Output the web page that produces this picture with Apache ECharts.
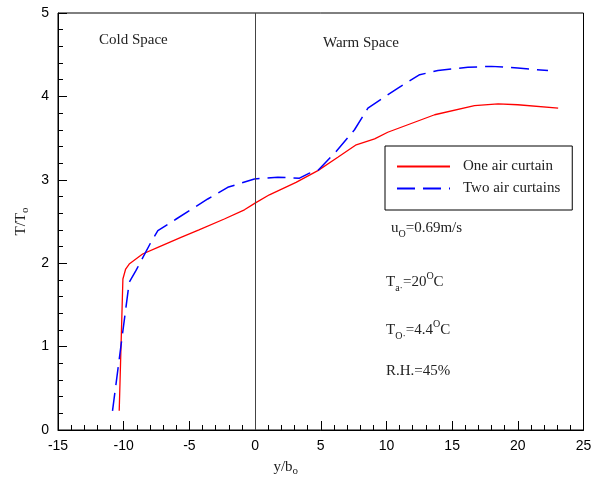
<!DOCTYPE html>
<html>
<head>
<meta charset="utf-8">
<script src="https://cdn.jsdelivr.net/npm/echarts@6/dist/echarts.min.js"></script>
<style>html,body{margin:0;padding:0;background:#fff}#c{width:600px;height:482px}</style>
</head>
<body>
<div id="c"></div>
<script>
// Data
var seriesNames = ['One air curtain', 'Two air curtains'];
var oneX = [-10.34, -10.06, -9.85, -9.58, -8.56, -7.4, -5.64, -4.27, -2.34, -0.81, 0.0, 1.09, 3.12, 4.78, 6.3, 7.7, 9.1, 10.1, 13.67, 16.7, 18.5, 20.0, 23.07];
var oneY = [0.23, 1.81, 1.93, 1.99, 2.11, 2.19, 2.31, 2.40, 2.53, 2.64, 2.72, 2.82, 2.97, 3.11, 3.27, 3.42, 3.49, 3.57, 3.78, 3.89, 3.91, 3.90, 3.86];
var twoX = [-10.85, -9.58, -9.07, -7.93, -7.4, -6.0, -3.6, -2.08, -0.05, 1.73, 3.38, 4.14, 4.78, 6.17, 7.57, 8.59, 10.88, 12.53, 13.92, 16.2, 17.99, 20.0, 22.3];
var twoY = [0.23, 1.77, 1.91, 2.25, 2.39, 2.53, 2.77, 2.91, 3.01, 3.03, 3.02, 3.08, 3.11, 3.34, 3.60, 3.86, 4.10, 4.26, 4.31, 4.35, 4.36, 4.34, 4.31];
var xTicks = {min: -15, max: 25, step: 5};
var yTicks = {min: 0, max: 5, step: 1};
var zeroLineX = 0;

function zip(a, b) { return a.map(function (v, i) { return [v, b[i]]; }); }

var chart = echarts.init(document.getElementById('c'), null, {renderer: 'canvas'});
var serif = 'Liberation Serif';
var sans = 'Liberation Sans';
var subRich = {
  n: {fontFamily: serif, fontSize: 15, color: '#222', lineHeight: 22, verticalAlign: 'middle'},
  sub: {fontFamily: serif, fontSize: 10, color: '#222', lineHeight: 22, verticalAlign: 'bottom'},
  sup: {fontFamily: serif, fontSize: 10, color: '#222', lineHeight: 22, verticalAlign: 'top'}
};
function note(x, y, text) {
  return {type: 'text', left: x, top: y, z: 10, style: {text: text, rich: subRich, fill: '#222', font: '15px ' + serif}};
}

chart.setOption({
  animation: false,
  grid: {left: 58, right: 16.5, top: 13, bottom: 50, show: true, borderColor: '#000', borderWidth: 1, backgroundColor: 'transparent'},
  xAxis: {
    type: 'value', min: xTicks.min, max: xTicks.max, interval: xTicks.step,
    axisLine: {onZero: false, lineStyle: {color: '#000', width: 1}},
    axisTick: {inside: true, length: 9, lineStyle: {color: '#000'}},
    minorTick: {show: true, splitNumber: 5, length: 5, lineStyle: {color: '#000'}},
    splitLine: {show: false},
    axisLabel: {color: '#000', fontFamily: sans, fontSize: 14, margin: 9},
    name: 'y/b{s|o}', nameLocation: 'middle', nameGap: 28,
    nameTextStyle: {fontFamily: serif, fontSize: 15, color: '#222', padding: [0, 70, 0, 0],
      rich: {s: {fontFamily: serif, fontSize: 11, color: '#222', padding: [8, 0, 0, 0]}}}
  },
  yAxis: {
    type: 'value', min: yTicks.min, max: yTicks.max, interval: yTicks.step,
    axisLine: {onZero: false, lineStyle: {color: '#000', width: 1}},
    axisTick: {inside: true, length: 9, lineStyle: {color: '#000'}},
    minorTick: {show: true, splitNumber: 5, length: 5, lineStyle: {color: '#000'}},
    splitLine: {show: false},
    axisLabel: {color: '#000', fontFamily: sans, fontSize: 14, margin: 9},
    name: 'T/T{s|o}', nameLocation: 'middle', nameGap: 27, nameRotate: 90,
    nameTextStyle: {fontFamily: serif, fontSize: 15, color: '#222',
      rich: {s: {fontFamily: serif, fontSize: 11, color: '#222', padding: [8, 0, 0, 0]}}}
  },
  legend: {
    orient: 'vertical', left: 385, top: 146,
    padding: [13, 12, 14, 11], itemWidth: 53, itemHeight: 14, itemGap: 7,
    borderColor: '#000', borderWidth: 1, backgroundColor: '#fff',
    itemStyle: {opacity: 0},
    textStyle: {fontFamily: serif, fontSize: 15, color: '#222', padding: [0, 0, 0, 8]},
    data: seriesNames
  },
  series: [
    {
      name: seriesNames[0], type: 'line', data: zip(oneX, oneY), symbol: 'none', smooth: false,
      lineStyle: {color: '#ff0000', width: 1.3}, itemStyle: {color: '#ff0000'},
      markLine: {silent: true, symbol: 'none', label: {show: false},
        lineStyle: {color: '#444', width: 1, type: 'solid'}, data: [{xAxis: zeroLineX}]}
    },
    {
      name: seriesNames[1], type: 'line', data: zip(twoX, twoY), symbol: 'none', smooth: false,
      lineStyle: {color: '#0000ff', width: 1.5, type: [18, 8]}, itemStyle: {color: '#0000ff'}
    }
  ],
  graphic: [
    note(99, 33, '{n|Cold Space}'),
    note(323, 36, '{n|Warm Space}'),
    note(391, 221, '{n|u}{sub|O}{n|=0.69m/s}'),
    note(386, 271, '{n|T}{sub|a·}{n|=20}{sup|O}{n|C}'),
    note(386, 319, '{n|T}{sub|O·}{n|=4.4}{sup|O}{n|C}'),
    note(386, 364, '{n|R.H.=45%}')
  ]
});
</script>
</body>
</html>
